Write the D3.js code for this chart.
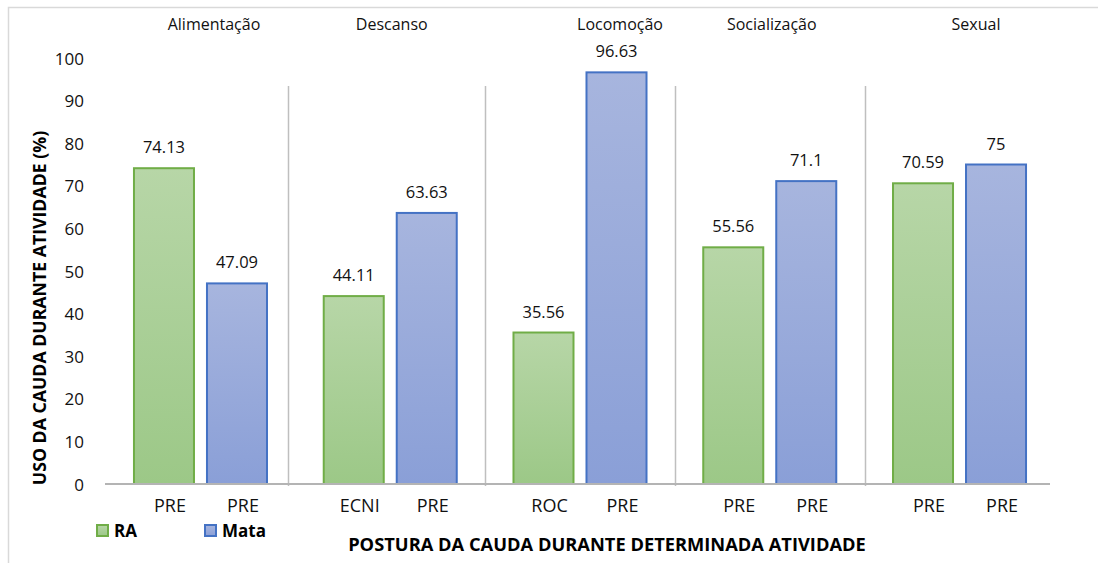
<!DOCTYPE html>
<html>
<head>
<meta charset="utf-8">
<script src="https://cdn.jsdelivr.net/npm/d3@7"></script>
<style>
  html, body { margin: 0; padding: 0; background: #fff; }
  svg { display: block; font-family: "Open Sans", "DejaVu Sans", sans-serif; }
</style>
</head>
<body>
<svg id="chart" width="1098" height="563"></svg>
<script>
// ---- data ----
const groups = ["Alimentação", "Descanso", "Locomoção", "Socialização", "Sexual"];
const series = ["RA", "Mata"];
const raLabels = ["PRE", "ECNI", "ROC", "PRE", "PRE"];
const mataLabels = ["PRE", "PRE", "PRE", "PRE", "PRE"];
const raValues = [74.13, 44.11, 35.56, 55.56, 70.59];
const mataValues = [47.09, 63.63, 96.63, 71.1, 75];
const yTicks = [0, 10, 20, 30, 40, 50, 60, 70, 80, 90, 100];
const yTitle = "USO DA CAUDA DURANTE ATIVIDADE (%)";
const xTitle = "POSTURA DA CAUDA DURANTE DETERMINADA ATIVIDADE";

// ---- layout / style (not data) ----
const groupLabelNudge = [13.5, 1.5, 40, 2, 16.5];
const colors = {
  RA:   { top: "#b7d6a7", bottom: "#9cc887", stroke: "#70ad47" },
  Mata: { top: "#a7b5de", bottom: "#8a9fd7", stroke: "#4472c4" }
};

const rows = [];
groups.forEach((g, i) => {
  rows.push({ group: g, series: "RA", value: raValues[i], label: raLabels[i] });
  rows.push({ group: g, series: "Mata", value: mataValues[i], label: mataLabels[i] });
});

const svg = d3.select("#chart");

// outer frame
svg.append("rect").attr("x", 8.5).attr("y", 7.5).attr("width", 1200).attr("height", 700)
  .attr("fill", "none").attr("stroke", "#d9d9d9").attr("stroke-width", 1.5);

const x0 = d3.scaleBand().domain(groups).range([105.6, 1054.4]).paddingInner(0).paddingOuter(0);
const x1 = d3.scaleBand().domain(series).range([0, x0.bandwidth()]).paddingInner(0.178).paddingOuter(0.3886);
const y = d3.scaleLinear().domain([0, 100]).range([484, 58]);

// gradients
const defs = svg.append("defs");
series.forEach(s => {
  const gr = defs.append("linearGradient").attr("id", "grad-" + s)
    .attr("x1", 0).attr("y1", 0).attr("x2", 0).attr("y2", 1);
  gr.append("stop").attr("offset", "0%").attr("stop-color", colors[s].top);
  gr.append("stop").attr("offset", "100%").attr("stop-color", colors[s].bottom);
});

// separators
groups.slice(1).forEach((g, i) => {
  const xs = Math.round(x0(g) - (i === 0 ? 7 : 0)) + 0.5;
  svg.append("line").attr("x1", xs).attr("x2", xs).attr("y1", 86).attr("y2", y(0) + 2)
    .attr("stroke", "#bfbfbf").attr("stroke-width", 1.5);
});

// y axis labels
const yAxis = d3.axisLeft(y).tickValues(yTicks).tickSize(0).tickPadding(0);
const yg = svg.append("g").attr("transform", "translate(84,0)").call(yAxis);
yg.select(".domain").remove();
yg.selectAll("text").attr("font-family", "Open Sans, sans-serif").attr("font-size", 17)
  .attr("fill", "#111").attr("dy", "0.36em");

// bars
svg.append("g").selectAll("rect").data(rows).join("rect")
  .attr("x", d => x0(d.group) + x1(d.series))
  .attr("y", d => y(d.value))
  .attr("width", x1.bandwidth())
  .attr("height", d => y(0) - y(d.value))
  .attr("fill", d => `url(#grad-${d.series})`)
  .attr("stroke", d => colors[d.series].stroke)
  .attr("stroke-width", 2);

// x axis line
svg.append("line").attr("x1", 105).attr("x2", 1050).attr("y1", y(0)).attr("y2", y(0))
  .attr("stroke", "#b4b4b4").attr("stroke-width", 2);

// value labels
svg.append("g").selectAll("text").data(rows).join("text")
  .attr("x", d => x0(d.group) + x1(d.series) + x1.bandwidth() / 2)
  .attr("y", d => y(d.value) - 15)
  .attr("text-anchor", "middle")
  .attr("font-size", 16.5)
  .attr("fill", "#111")
  .text(d => String(d.value));

// category labels
svg.append("g").selectAll("text").data(rows).join("text")
  .attr("x", d => x0(d.group) + x1(d.series) + x1.bandwidth() / 2 + 6)
  .attr("y", y(0) + 28)
  .attr("text-anchor", "middle")
  .attr("font-size", 18)
  .attr("fill", "#111")
  .text(d => d.label);

// group labels (top)
svg.append("g").selectAll("text").data(groups).join("text")
  .attr("x", (g, i) => x0(g) + x0.bandwidth() / 2 + groupLabelNudge[i])
  .attr("y", 30)
  .attr("text-anchor", "middle")
  .attr("font-size", 16)
  .attr("fill", "#111")
  .text(g => g);

// y title
svg.append("text")
  .attr("transform", "translate(46,308) rotate(-90)")
  .attr("text-anchor", "middle")
  .attr("font-size", 17.7).attr("font-weight", "bold")
  .attr("fill", "#000")
  .text(yTitle);

// x title
svg.append("text")
  .attr("x", 607).attr("y", 551)
  .attr("text-anchor", "middle")
  .attr("font-size", 18.3).attr("font-weight", "bold")
  .attr("fill", "#000")
  .text(xTitle);

// legend
const legendX = [96, 204];
series.forEach((s, i) => {
  const lg = svg.append("g").attr("transform", `translate(${legendX[i]},524)`);
  lg.append("rect").attr("x", 1).attr("y", 1).attr("width", 11).attr("height", 11)
    .attr("fill", `url(#grad-${s})`).attr("stroke", colors[s].stroke).attr("stroke-width", 2);
  lg.append("text").attr("x", 18).attr("y", 12.5)
    .attr("font-size", 17).attr("font-weight", "bold").attr("fill", "#000").text(s);
});
</script>
</body>
</html>
